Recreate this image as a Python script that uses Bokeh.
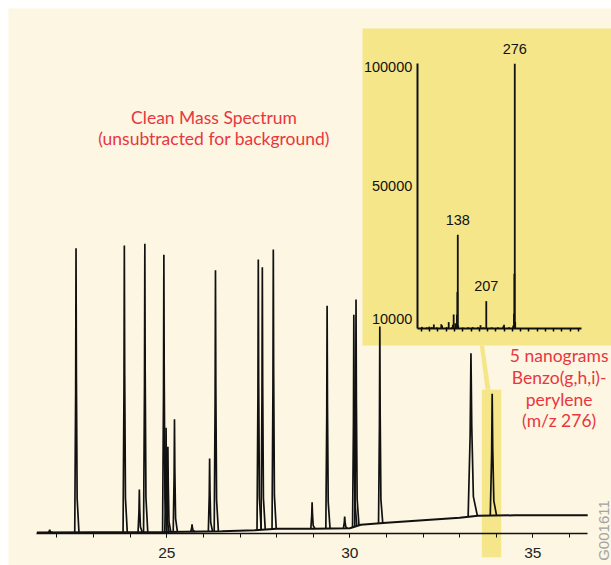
import numpy as np
from bokeh.plotting import figure
from bokeh.models import Range1d, LinearAxis, FixedTicker, CustomJSTickFormatter
from bokeh.core.properties import value
from bokeh.embed import file_html
from bokeh.resources import INLINE

# ---------------- data: total ion chromatogram ----------------
# retention time (min), apex height (arbitrary abundance units), relative peak width
peak_rt = [21.80, 22.52, 23.84, 24.25, 24.40, 24.92, 24.98, 25.03, 25.21, 25.69,
           26.17, 26.33, 27.50, 27.61, 27.91, 28.97, 29.38, 29.86, 30.11, 30.17,
           30.82, 33.31, 33.89]
peak_height = [4.0, 285.6, 288.3, 44.3, 290.0, 279.0, 106.0, 87.0, 114.6, 9.5,
               75.3, 263.6, 274.3, 266.6, 284.3, 31.6, 228.0, 17.3, 219.0, 234.3,
               207.3, 180.6, 140.0]
peak_wf = [1, 1, 1, 1, 1, 1, 1, 1, 1, 1,
           1, 1, 1, 1, 1, 1, 1, 1, 1, 1,
           1, 2.2, 1.5]

# baseline drift (retention time, abundance)
base_rt = [21.45, 23.0, 25.0, 26.5, 27.4, 28.0, 29.0, 30.0, 30.3, 31.0, 32.0, 33.0, 33.5, 34.5, 36.5]
base_ab = [1.3, 1.5, 1.8, 2.5, 3.5, 5.0, 5.0, 5.5, 9.0, 11.0, 13.5, 16.0, 18.0, 18.5, 18.5]

rt_ticks = [25, 30, 35]
rt_minor = list(range(22, 37))

# ---------------- data: mass spectrum (inset) ----------------
ms_mz = [51, 63, 69, 75, 80, 87, 98, 100, 111, 116, 124, 126, 128, 132, 136, 137, 138, 139,
         150, 163, 174, 187, 193, 200, 207, 220, 235, 248, 250, 262, 272, 274, 275, 276, 277]
ms_ab = [-9100, -9300, -9000, -9200, -8100, -9300, -8000, -8500, -9200, -7100, -9300, -8200,
         -3900, -7600, -4000, 5500, 29600, -8600, -9400, -9300, -9200, -9300, -8400, -9300,
         1700, -9300, -9300, -8900, -8200, -9300, -8600, -3600, 13200, 101400, -7000]
ms_label_mz = [138, 207, 276]
ms_label_ab = [29600, 1700, 101400]
ms_floor = -9916
ms_yticks = [100000, 50000, -5715]
ms_ytick_text = {100000: "100000", 50000: "50000", -5715: "10000"}
ms_xticks = list(range(50, 440, 20))

CREAM = "#fdf6e2"
YELLOW = "#f5e68a"
RED = "#e8373f"

p = figure(width=611, height=565, output_backend="svg", toolbar_location=None,
           x_range=Range1d(20.675, 37.150), y_range=Range1d(-31.7, 525.3),
           y_axis_location=None, min_border=0, min_border_left=8, min_border_top=8,
           background_fill_color=CREAM, border_fill_color="white", outline_line_color=None)
p.grid.visible = False
p.extra_x_ranges = {"mz": Range1d(-949.9, 510.2)}
p.extra_y_ranges = {"ab": Range1d(-109370, 124665)}

# inset panel, connector and highlight band
p.quad(left=[30.347], right=[37.3], bottom=[188.3], top=[505.3], fill_color=YELLOW, line_color=None)
p.patch(x=[33.552, 33.667, 33.845, 33.708], y=[188.4, 188.4, 144.0, 144.0], fill_color=YELLOW, line_color=None)
p.quad(left=[33.607], right=[34.137], bottom=[-23.4], top=[144.0], fill_color=YELLOW, line_color=None)

# chromatogram trace
p.line(base_rt, base_ab, line_color="#111111", line_width=2.0)
shape_dt = np.array([-0.035, -0.01, 0.0, 0.01, 0.03, 0.08])
shape_fr = np.array([0.0, 0.5, 1.0, 0.55, 0.12, 0.0])
xs, ys = [], []
for rt, h, wf in zip(peak_rt, peak_height, peak_wf):
    tx = rt + shape_dt * wf
    b = np.interp(tx, base_rt, base_ab)
    b0 = np.interp(rt, base_rt, base_ab)
    xs.append(list(tx))
    ys.append(list(b + shape_fr * (h - b0)))
p.multi_line(xs, ys, line_color="#111111", line_width=1.7)

p.xaxis.fixed_location = 0
p.xaxis.bounds = (21.45, 36.5)
p.xaxis.ticker = FixedTicker(ticks=rt_ticks, minor_ticks=rt_minor)
p.xaxis.major_tick_out = 4
p.xaxis.major_tick_in = 0
p.xaxis.minor_tick_out = 4
p.xaxis.minor_tick_in = 0
p.xaxis.axis_line_color = "#111111"
p.xaxis.axis_line_width = 1.3
p.xaxis.major_tick_line_color = "#111111"
p.xaxis.minor_tick_line_color = "#111111"
p.xaxis.major_label_text_font = "Liberation Sans"
p.xaxis.major_label_text_font_size = "15.5px"
p.xaxis.major_label_text_color = "#222222"
p.xaxis.major_label_standoff = 10

# inset mass spectrum
p.segment(x0=ms_mz, y0=[ms_floor] * len(ms_mz), x1=ms_mz, y1=ms_ab,
          x_range_name="mz", y_range_name="ab", line_color="#111111", line_width=1.8)
p.text(x=ms_label_mz, y=ms_label_ab, text=[str(m) for m in ms_label_mz],
       x_range_name="mz", y_range_name="ab", text_align="center", text_baseline="middle",
       y_offset=-15, text_font=value("Liberation Sans"), text_font_size="14.5px", text_color="#111111")

ax_ms = LinearAxis(x_range_name="mz", y_range_name="ab", fixed_location=ms_floor,
                   bounds=(40, 437), ticker=FixedTicker(ticks=ms_xticks),
                   formatter=CustomJSTickFormatter(code="return ''"))
ax_ms.axis_line_width = 2.2
ax_ms.axis_line_color = "#111111"
ax_ms.major_tick_out = 3
ax_ms.major_tick_in = 0
ax_ms.major_tick_line_width = 1.5
ax_ms.minor_tick_out = 0
p.add_layout(ax_ms, "below")

ay_ms = LinearAxis(x_range_name="mz", y_range_name="ab", fixed_location=40,
                   bounds=(ms_floor, 101400), ticker=FixedTicker(ticks=ms_yticks),
                   major_label_overrides=ms_ytick_text)
ay_ms.axis_line_width = 2
ay_ms.axis_line_color = "#111111"
ay_ms.major_tick_out = 0
ay_ms.major_tick_in = 0
ay_ms.minor_tick_out = 0
ay_ms.minor_tick_in = 0
ay_ms.major_label_standoff = 5
ay_ms.major_label_text_font = "Liberation Sans"
ay_ms.major_label_text_font_size = "14.5px"
ay_ms.major_label_text_color = "#111111"
p.add_layout(ay_ms, "left")

# annotations
p.text(x=[26.29, 26.29], y=[416.6, 395.6],
       text=["Clean Mass Spectrum", "(unsubtracted for background)"],
       text_align="center", text_baseline="middle", text_font=value("Lato"),
       text_font_size="17.5px", text_color=RED)
p.text(x=[35.72] * 4, y=[178.3, 156.3, 134.3, 113.3],
       text=["5 nanograms", "Benzo(g,h,i)-", "perylene", "(m/z 276)"],
       text_align="center", text_baseline="middle", text_font=value("Lato"),
       text_font_size="17.5px", text_color=RED)
p.text(x=[36.93], y=[3.3], text=["G001611"], angle=np.pi / 2,
       text_align="center", text_baseline="middle", text_font=value("Liberation Sans"),
       text_font_size="15px", text_color="#a0a4a4")

open("out.html", "w").write(file_html(p, INLINE))
